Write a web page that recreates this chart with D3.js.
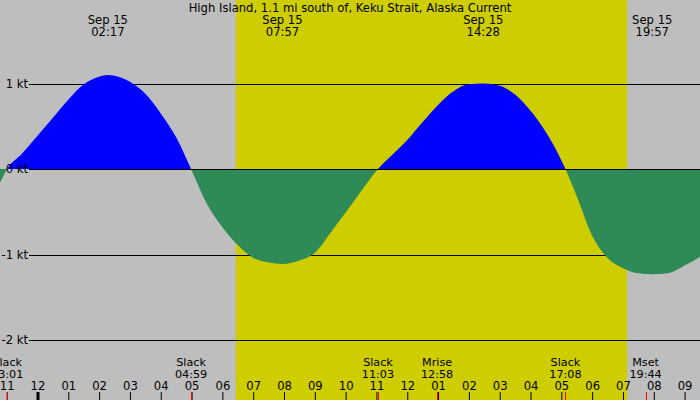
<!DOCTYPE html>
<html>
<head>
<meta charset="utf-8">
<script src="https://cdn.jsdelivr.net/npm/d3@7"></script>
<style>
  body { margin: 0; background: #bebebe; }
  text { font-family: "DejaVu Sans", sans-serif; font-size: 11.6px; fill: #000; }
</style>
</head>
<body>
<div id="chart"></div>
<script>
// current speed (kt), roughly every half hour plus slack / max times
var flowTimes = ["09-14 22:47", "09-14 23:01", "09-14 23:30",
  "09-15 00:00", "09-15 00:30", "09-15 01:00", "09-15 01:30", "09-15 02:00", "09-15 02:17", "09-15 02:30",
  "09-15 03:00", "09-15 03:30", "09-15 04:00", "09-15 04:30", "09-15 04:59",
  "09-15 05:30", "09-15 06:00", "09-15 06:30", "09-15 07:00", "09-15 07:30", "09-15 07:57",
  "09-15 08:30", "09-15 09:00", "09-15 09:30", "09-15 10:00", "09-15 10:30", "09-15 11:03",
  "09-15 11:30", "09-15 12:00", "09-15 12:30", "09-15 13:00", "09-15 13:30", "09-15 14:00", "09-15 14:28",
  "09-15 15:00", "09-15 15:30", "09-15 16:00", "09-15 16:30", "09-15 17:08",
  "09-15 17:30", "09-15 18:00", "09-15 18:30", "09-15 19:00", "09-15 19:30", "09-15 19:57",
  "09-15 20:30", "09-15 21:00", "09-15 21:30"];
var flowSpeeds = [-0.16, 0, 0.18,
  0.39, 0.60, 0.81, 0.99, 1.08, 1.10, 1.09,
  1.02, 0.88, 0.65, 0.37, 0,
  -0.41, -0.68, -0.89, -1.04, -1.095, -1.11,
  -1.07, -0.98, -0.75, -0.51, -0.26, 0,
  0.16, 0.34, 0.55, 0.75, 0.91, 0.99, 1.00,
  0.975, 0.87, 0.68, 0.43, 0,
  -0.32, -0.78, -1.04, -1.16, -1.22, -1.23,
  -1.215, -1.13, -1.03];

// max flood / max ebb labels along the top
var peakTimes = ["09-15 02:17", "09-15 07:57", "09-15 14:28", "09-15 19:57"];
var peakDays = ["Sep 15", "Sep 15", "Sep 15", "Sep 15"];

// events along the bottom (slack water, moon)
var eventTimes = ["09-14 23:01", "09-15 04:59", "09-15 11:03", "09-15 12:58", "09-15 17:08", "09-15 19:44"];
var eventNames = ["Slack", "Slack", "Slack", "Mrise", "Slack", "Mset"];

// daylight
var sunrise = "09-15 06:26";
var sunset = "09-15 19:08";

var speedTicks = [1, 0, -1, -2];
var title = "High Island, 1.1 mi south of, Keku Strait, Alaska Current";

var svgWidth = 700;
var svgHeight = 400;

var parseTime = d3.timeParse("%Y-%m-%d %H:%M");
function toDate(s) { return parseTime("2024-" + s); }
var fmtClock = d3.timeFormat("%H:%M");

var flow = flowTimes.map((t, i) => ({ time: toDate(t), speed: flowSpeeds[i] }));

var svg = d3.select("#chart")
    .append("svg")
    .attr("width", svgWidth)
    .attr("height", svgHeight);

// scales
var xScale = d3.scaleTime()
    .domain([toDate("09-14 22:47"), toDate("09-15 21:30")])
    .range([0, svgWidth]);

var yScale = d3.scaleLinear()
    .domain([-2, 1])
    .range([340, 83.5]);

// background + daylight band
svg.append("rect")
    .attr("width", svgWidth)
    .attr("height", svgHeight)
    .attr("fill", "#bebebe");

svg.append("rect")
    .attr("x", xScale(toDate(sunrise)))
    .attr("width", xScale(toDate(sunset)) - xScale(toDate(sunrise)))
    .attr("y", 0)
    .attr("height", svgHeight)
    .attr("fill", "#cdcd00");

// speed grid lines
function gridY(d) { return Math.round(yScale(d)) + 0.5; }

svg.selectAll(".grid")
    .data(speedTicks)
    .enter()
    .append("line")
    .attr("x1", 29)
    .attr("x2", svgWidth)
    .attr("y1", gridY)
    .attr("y2", gridY)
    .attr("stroke", "#000")
    .attr("stroke-width", 1)
    .attr("shape-rendering", "crispEdges");

// flood (blue) above zero, ebb (green) below zero
var zeroY = Math.round(yScale(0));
var defs = svg.append("defs");
defs.append("clipPath").attr("id", "above")
    .append("rect").attr("x", 0).attr("y", 0).attr("width", svgWidth).attr("height", zeroY);
defs.append("clipPath").attr("id", "below")
    .append("rect").attr("x", 0).attr("y", zeroY).attr("width", svgWidth).attr("height", svgHeight - zeroY);

var area = d3.area()
    .x(d => xScale(d.time))
    .y0(zeroY)
    .y1(d => yScale(d.speed))
    .curve(d3.curveMonotoneX);

svg.append("path")
    .datum(flow)
    .attr("d", area)
    .attr("fill", "#0000ff")
    .attr("clip-path", "url(#above)");

svg.append("path")
    .datum(flow)
    .attr("d", area)
    .attr("fill", "#2e8b57")
    .attr("clip-path", "url(#below)");

// zero line stays visible on top of the fills
svg.append("line")
    .attr("x1", 29)
    .attr("x2", svgWidth)
    .attr("y1", gridY(0))
    .attr("y2", gridY(0))
    .attr("stroke", "#000")
    .attr("shape-rendering", "crispEdges");

// speed labels
svg.selectAll(".ylabel")
    .data(speedTicks)
    .enter()
    .append("text")
    .attr("x", 28)
    .attr("y", d => yScale(d))
    .attr("dy", "0.38em")
    .attr("text-anchor", "end")
    .text(d => d + " kt");

// title
svg.append("text")
    .attr("x", svgWidth / 2)
    .attr("y", 12)
    .attr("text-anchor", "middle")
    .text(title);

// peak labels
var peaks = svg.selectAll(".peak")
    .data(peakTimes)
    .enter()
    .append("g")
    .attr("transform", d => `translate(${xScale(toDate(d))}, 0)`);

peaks.append("text")
    .attr("y", 24)
    .attr("text-anchor", "middle")
    .text((d, i) => peakDays[i]);

peaks.append("text")
    .attr("y", 36)
    .attr("text-anchor", "middle")
    .text(d => fmtClock(toDate(d)));

// event labels
var events = svg.selectAll(".event")
    .data(eventTimes)
    .enter()
    .append("g")
    .attr("transform", d => `translate(${xScale(toDate(d))}, 0)`);

events.append("text")
    .attr("y", 366)
    .attr("text-anchor", "middle")
    .style("font-size", "11.2px")
    .text((d, i) => eventNames[i]);

events.append("text")
    .attr("y", 377.5)
    .attr("text-anchor", "middle")
    .style("font-size", "11.2px")
    .text(d => fmtClock(toDate(d)));

// hour axis along the bottom edge
var hourAxis = d3.axisTop(xScale)
    .ticks(d3.timeHour.every(1))
    .tickFormat(d3.timeFormat("%I"))
    .tickSize(8)
    .tickPadding(2);

var axisG = svg.append("g")
    .attr("transform", `translate(0, ${svgHeight})`)
    .call(hourAxis);

axisG.select(".domain").remove();
axisG.selectAll("text")
    .attr("font-family", "DejaVu Sans")
    .attr("font-size", 11)
    .attr("fill", "#000");
axisG.selectAll("line")
    .attr("stroke", "#000")
    .attr("stroke-width", d => d.getHours() === 0 ? 3 : 1);

// red marks for the events
svg.selectAll(".eventTick")
    .data(eventTimes)
    .enter()
    .append("line")
    .attr("x1", d => Math.round(xScale(toDate(d))) + 0.5)
    .attr("x2", d => Math.round(xScale(toDate(d))) + 0.5)
    .attr("y1", 392)
    .attr("y2", svgHeight)
    .attr("stroke", "#ff0000")
    .attr("stroke-width", 1);
</script>
</body>
</html>
